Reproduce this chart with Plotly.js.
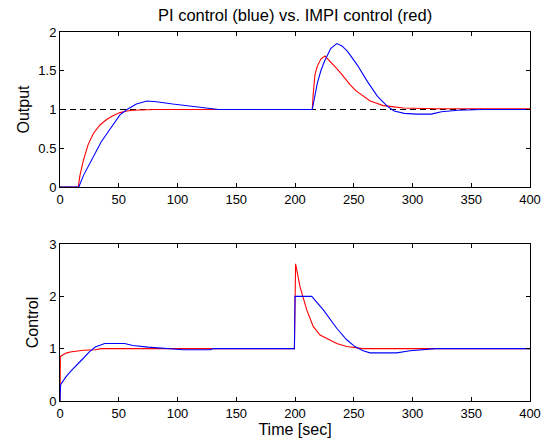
<!DOCTYPE html>
<html>
<head>
<meta charset="utf-8">
<script src="https://cdn.plot.ly/plotly-3.0.1.min.js"></script>
<style>html,body{margin:0;padding:0;background:#fff;}#chart{width:549px;height:446px;}</style>
</head>
<body>
<div id="chart"></div>
<script>
// Output (top panel)
var tOutPI = [0,16,20,28,35,40,45,51,57,65,74,82,96,113,123,135,214.7,216,219,222,225,230.5,235.6,240,244.7,253.2,261.7,270.2,278.7,284.4,292.9,304,316,324.6,338.7,360,400];
var yOutPI = [0,0,0.15,0.39,0.58,0.69,0.80,0.93,1.0,1.07,1.11,1.10,1.07,1.04,1.02,1.0,1.0,1.12,1.34,1.5,1.62,1.79,1.85,1.82,1.75,1.57,1.36,1.17,1.04,0.98,0.95,0.94,0.94,0.97,0.99,1.0,1.0];
var tOutIMPI = [0,15.5,17,20,24,28.4,34,39.7,45,51,57,62,80,214.7,215.5,217,219,222,225.5,230,235.4,240,246.8,252,258.2,264,269.5,275,280.9,292.2,320,400];
var yOutIMPI = [0,0,0.15,0.35,0.55,0.69,0.80,0.87,0.92,0.96,0.98,0.99,1.0,1.0,1.2,1.45,1.56,1.65,1.69,1.62,1.53,1.45,1.32,1.24,1.17,1.11,1.08,1.05,1.04,1.02,1.01,1.01];
var tRef = [0,400];
var yRef = [1,1];
// Control (bottom panel)
var tCtlPI = [0,0.5,5,10,17,25,30,38,55,62,75,90,105,128,130,199.5,200,214.2,224.1,235.5,244,251,258,263.8,286.5,297.9,315,320,400];
var yCtlPI = [0,0.31,0.46,0.59,0.75,0.94,1.03,1.1,1.1,1.06,1.03,1.0,0.98,0.98,1.0,1.0,2.0,2.0,1.74,1.39,1.17,1.04,0.96,0.92,0.92,0.96,0.98,1.0,1.0];
var tCtlIMPI = [0,0.3,3,5.7,10,15,20,30,35,199.5,200.5,204.3,210,215.6,221.3,228.4,235.5,244,252.5,258,400];
var yCtlIMPI = [0,0.85,0.89,0.92,0.94,0.96,0.97,0.98,1.0,1.0,2.62,2.18,1.74,1.42,1.26,1.18,1.10,1.04,1.02,1.0,1.0];
var xTicks = [0,50,100,150,200,250,300,350,400];

var traces = [
  {x:tRef, y:yRef, xaxis:'x', yaxis:'y', mode:'lines', line:{color:'#000', width:1, dash:'6px,4px'}, hoverinfo:'skip'},
  {x:tOutIMPI, y:yOutIMPI, xaxis:'x', yaxis:'y', mode:'lines', line:{color:'#ff0000', width:1.1}},
  {x:tOutPI, y:yOutPI, xaxis:'x', yaxis:'y', mode:'lines', line:{color:'#0000ff', width:1.1}},
  {x:tCtlIMPI, y:yCtlIMPI, xaxis:'x2', yaxis:'y2', mode:'lines', line:{color:'#ff0000', width:1.1}},
  {x:tCtlPI, y:yCtlPI, xaxis:'x2', yaxis:'y2', mode:'lines', line:{color:'#0000ff', width:1.1}}
];
var fam = 'Liberation Sans, Arial, sans-serif';
var font = {family:fam, size:13, color:'#000'};
var tfont = {family:fam, size:16, color:'#000'};
var axBase = {showline:true, linecolor:'#000', linewidth:1, mirror:'allticks', ticks:'inside', ticklen:4, tickcolor:'#000', showgrid:false, zeroline:false, tickfont:font};
var layout = {
  width:549, height:446,
  margin:{l:60, r:19, t:32, b:45},
  paper_bgcolor:'#fff', plot_bgcolor:'#fff',
  showlegend:false,
  font:font,
  title:{text:'PI control (blue) vs. IMPI control (red)', font:{family:fam, size:16.5, color:'#000'}, x:0.5375, xanchor:'center', xref:'container', yref:'container', y:0.966, yanchor:'middle'},
  xaxis:Object.assign({}, axBase, {domain:[0,1], range:[0,400], tickvals:xTicks, anchor:'y'}),
  yaxis:Object.assign({}, axBase, {domain:[0.58,1], range:[0,2], tickvals:[0,0.5,1,1.5,2], anchor:'x', title:{text:'Output', font:tfont, standoff:4}}),
  xaxis2:Object.assign({}, axBase, {domain:[0,1], range:[0,400], tickvals:xTicks, anchor:'y2', title:{text:'Time [sec]', font:tfont, standoff:2}}),
  yaxis2:Object.assign({}, axBase, {domain:[0,0.4255], range:[0,3], tickvals:[0,1,2,3], anchor:'x2', title:{text:'Control', font:tfont, standoff:6}})
};
Plotly.newPlot('chart', traces, layout, {displayModeBar:false, staticPlot:true});
</script>
</body>
</html>
